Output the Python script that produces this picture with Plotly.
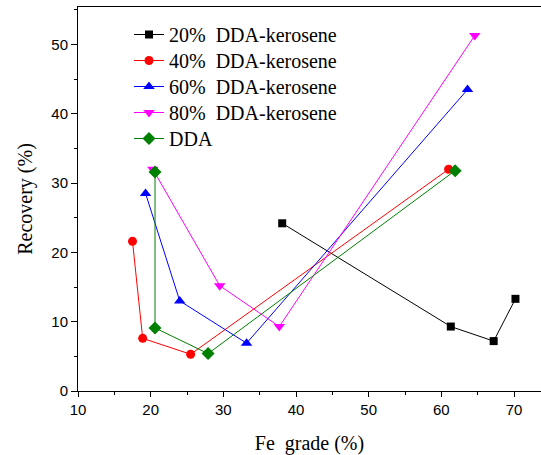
import plotly.graph_objects as go

# Data
series_names = ["20%\u00a0\u00a0DDA-kerosene", "40%\u00a0\u00a0DDA-kerosene",
                "60%\u00a0\u00a0DDA-kerosene", "80%\u00a0\u00a0DDA-kerosene", "DDA"]

grade_20 = [38.1, 61.3, 67.2, 70.2]
recov_20 = [24.2, 9.3, 7.2, 13.3]

grade_40 = [17.5, 18.9, 25.5, 61.0]
recov_40 = [21.6, 7.6, 5.3, 32.0]

grade_60 = [19.3, 24.0, 33.2, 63.6]
recov_60 = [28.5, 13.0, 6.9, 43.5]

grade_80 = [20.3, 29.5, 37.7, 64.6]
recov_80 = [32.0, 15.2, 9.3, 51.3]

grade_dda = [20.6, 20.6, 27.9, 61.9]
recov_dda = [31.6, 9.1, 5.4, 31.8]

x_ticks = [10, 20, 30, 40, 50, 60, 70]
y_ticks = [0, 10, 20, 30, 40, 50]

colors = ["#000000", "#ff0000", "#0000ff", "#ff00ff", "#008000"]
symbols = ["square", "circle", "triangle-up", "triangle-down", "diamond"]
sizes = [8, 9, 10, 10, 10]

xs = [grade_20, grade_40, grade_60, grade_80, grade_dda]
ys = [recov_20, recov_40, recov_60, recov_80, recov_dda]

SERIF = "Liberation Serif"
SANS = "Liberation Sans"

W, H = 541, 455
ml, mr, mt, mb = 78, 0, 7, 64
pxu_x = 7.267
pxu_y = 6.93
xmax = 10 + (W - ml - mr) / pxu_x
ymax = (H - mt - mb) / pxu_y
plot_w = W - ml - mr
plot_h = H - mt - mb

legend_ids = ["legend", "legend2", "legend3", "legend4", "legend5"]
row_centers = [36, 62, 88, 114, 140]  # pixel rows of the legend entries

fig = go.Figure()
for name, x, y, c, s, sz, lg in zip(series_names, xs, ys, colors, symbols, sizes, legend_ids):
    fig.add_trace(go.Scatter(
        x=x, y=y, name=name, mode="lines+markers",
        line=dict(color=c, width=1),
        marker=dict(color=c, symbol=s, size=sz, line=dict(width=0)),
        legend=lg,
    ))

axis_common = dict(
    showgrid=False, zeroline=False, showline=True, linecolor="black", linewidth=1,
    ticks="outside", tickcolor="black", tickwidth=1,
    tickfont=dict(family=SANS, size=15, color="black"),
)

legend_layout = {}
for lg, yc in zip(legend_ids, row_centers):
    legend_layout[lg] = dict(
        x=(129 - ml) / plot_w, y=1 - (yc - 21 - mt) / plot_h,
        xanchor="left", yanchor="top",
        bgcolor="rgba(0,0,0,0)", borderwidth=0,
        font=dict(family=SERIF, size=20, color="black"),
        itemwidth=30,
    )

fig.update_layout(
    width=W, height=H,
    margin=dict(l=ml, r=mr, t=mt, b=mb),
    plot_bgcolor="white", paper_bgcolor="white",
    font=dict(family=SERIF, color="black"),
    showlegend=True,
    xaxis=dict(
        range=[10, xmax], tickvals=x_ticks, ticklen=5,
        minor=dict(dtick=5, ticklen=3, ticks="outside", tickcolor="black"),
        mirror=True,
        title=dict(text="Fe\u00a0\u00a0grade (%)", standoff=18,
                   font=dict(family=SERIF, size=20, color="black")),
        **axis_common,
    ),
    yaxis=dict(
        range=[0, ymax], tickvals=y_ticks, ticklen=6,
        minor=dict(dtick=5, ticklen=3, ticks="outside", tickcolor="black"),
        title=dict(text="Recovery (%)", standoff=13,
                   font=dict(family=SERIF, size=20, color="black")),
        **axis_common,
    ),
    **legend_layout,
)

fig.write_html("out.html", config={"displayModeBar": False},
               post_script="document.body.style.margin='0';")
